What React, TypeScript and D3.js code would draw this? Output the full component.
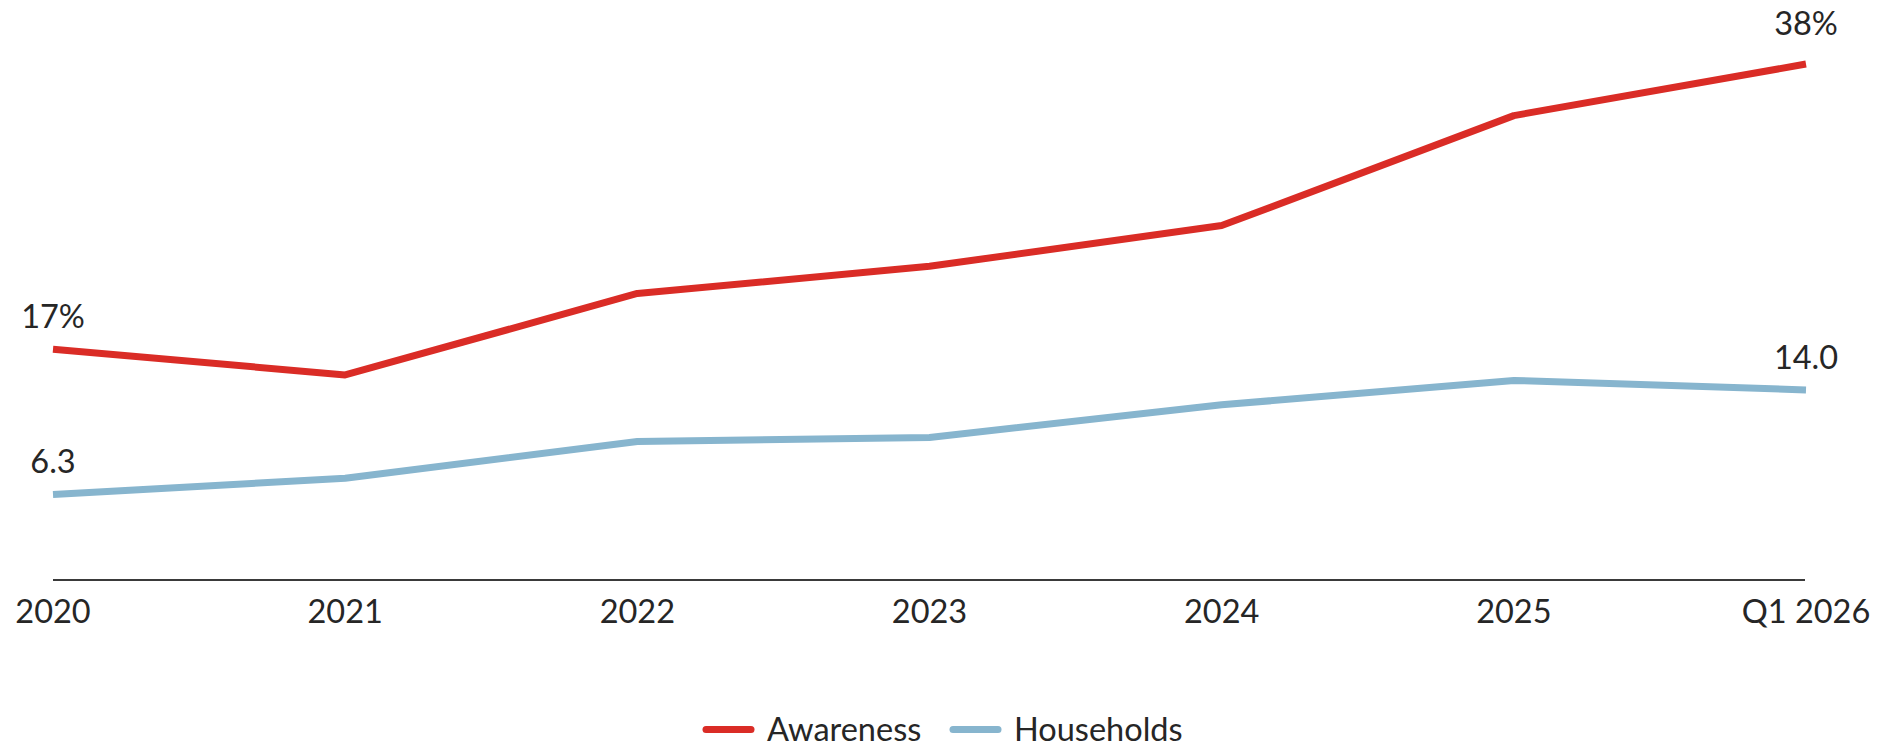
import React from "react";
import * as d3 from "d3";

const categories = ["2020", "2021", "2022", "2023", "2024", "2025", "Q1 2026"];
const awareness = [17, 15.1, 21.1, 23.1, 26.1, 34.2, 38];
const households = [6.3, 7.5, 10.2, 10.5, 12.9, 14.7, 14.0];
const seriesNames = ["Awareness", "Households"];
const seriesColors = ["#DA2C26", "#87B5CE"];
const awarenessLabels = ["17%", "", "", "", "", "", "38%"];
const householdLabels = ["6.3", "", "", "", "", "", "14.0"];

const W = 1881;
const H = 748;
const FONT = "Lato, 'Open Sans', 'Noto Sans', sans-serif";
const TEXT = "#262626";
const FS = 32.5;

export default function App() {
  const x = d3.scalePoint<string>().domain(categories).range([53, 1806]);
  const y = d3.scaleLinear().domain([0, 38]).range([580, 64]);
  const line = d3
    .line<number>()
    .x((_, i) => x(categories[i]) as number)
    .y((d) => y(d));

  const series = [
    { name: seriesNames[0], values: awareness, labels: awarenessLabels, color: seriesColors[0] },
    { name: seriesNames[1], values: households, labels: householdLabels, color: seriesColors[1] },
  ];

  const legendX = [703, 950];

  return (
    <svg
      width={W}
      height={H}
      style={{ position: "absolute", left: 0, top: 0, display: "block", background: "#fff" }}
      fontFamily={FONT}
    >
      <line x1={x(categories[0])} x2={1805} y1={y(0)} y2={y(0)} stroke="#3a3a3a" strokeWidth={2.2} />
      {categories.map((c) => (
        <text key={c} x={x(c)} y={623} textAnchor="middle" fontSize={FS} fill={TEXT}>
          {c}
        </text>
      ))}
      {series.map((s) => (
        <path
          key={s.name}
          d={line(s.values) || ""}
          fill="none"
          stroke={s.color}
          strokeWidth={7}
          strokeLinejoin="round"
        />
      ))}
      {series.map((s) =>
        s.labels.map((lab, i) => {
          if (!lab) return null;
          const py = y(s.values[i]);
          const dy = py < 90 ? -29 : -21;
          return (
            <text
              key={s.name + i}
              x={x(categories[i])}
              y={py + dy}
              textAnchor="middle"
              fontSize={FS}
              fill={TEXT}
            >
              {lab}
            </text>
          );
        })
      )}
      {series.map((s, i) => (
        <g key={"lg" + s.name} transform={`translate(${legendX[i]},729.5)`}>
          <line x1={3} x2={48} y1={0} y2={0} stroke={s.color} strokeWidth={7} strokeLinecap="round" />
          <text x={64} y={11.5} fontSize={FS} fill={TEXT}>
            {s.name}
          </text>
        </g>
      ))}
    </svg>
  );
}
